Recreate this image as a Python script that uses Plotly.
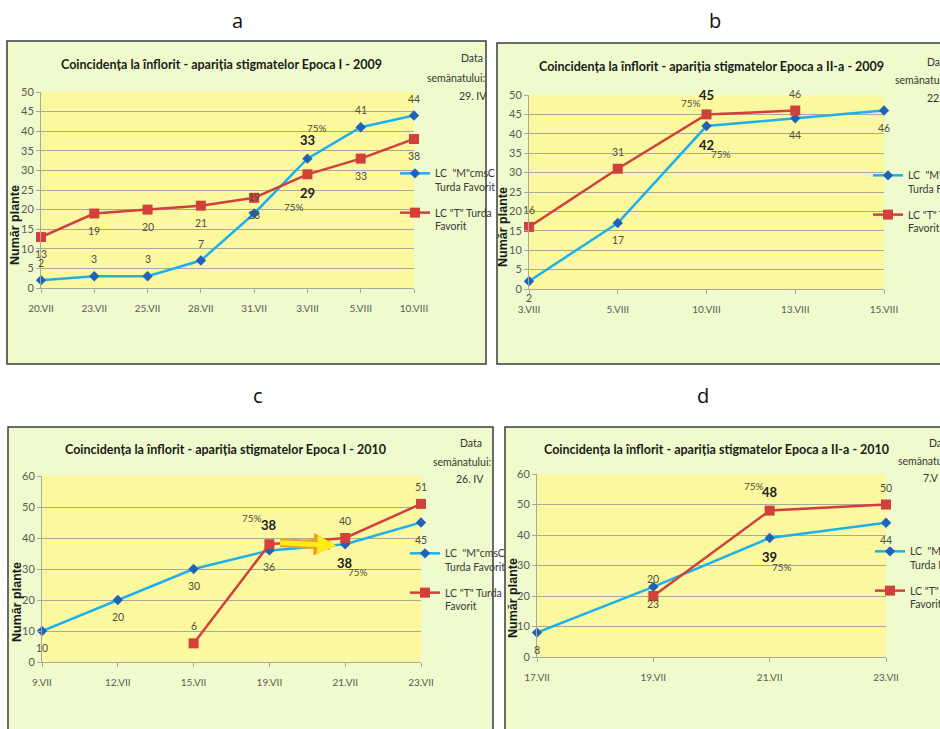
import plotly.graph_objects as go

# ---------------- data ----------------
a_dates = ["20.VII", "23.VII", "25.VII", "28.VII", "31.VII", "3.VIII", "5.VIII", "10.VIII"]
a_M = [2, 3, 3, 7, 19, 33, 41, 44]
a_T = [13, 19, 20, 21, 23, 29, 33, 38]

b_dates = ["3.VIII", "5.VIII", "10.VIII", "13.VIII", "15.VIII"]
b_M = [2, 17, 42, 44, 46]
b_T = [16, 31, 45, 46, None]

c_dates = ["9.VII", "12.VII", "15.VII", "19.VII", "21.VII", "23.VII"]
c_M = [10, 20, 30, 36, 38, 45]
c_T = [None, None, 6, 38, 40, 51]

d_dates = ["17.VII", "19.VII", "21.VII", "23.VII"]
d_M = [8, 23, 39, 44]
d_T = [None, 20, 48, 50]

titles = [
    "Coincidența la înflorit - apariția stigmatelor Epoca I - 2009",
    "Coincidența la înflorit - apariția stigmatelor Epoca a II-a - 2009",
    "Coincidența la înflorit - apariția stigmatelor Epoca I - 2010",
    "Coincidența la înflorit - apariția stigmatelor Epoca a II-a - 2010",
]
sowing = ["29. IV", "22.V", "26. IV", "7.V"]
letters = ["a", "b", "c", "d"]
name_M = 'LC  "M"cmsC<br>Turda Favorit'
name_T = 'LC "T" Turda<br>Favorit'

# ---------------- style / layout ----------------
W, H = 940, 729
NARROW = "Lato, Roboto, Liberation Sans, sans-serif"
BLUE = "#1CB0EC"
BLUE_MK = "#1F63B8"
RED = "#D2403B"
LBL = "#4F4F40"
PANEL_BG = "#EFFBCC"
PLOT_BG = "#FCF8A0"
GRID = "#A8A8A0"

def px(x):
    return x / W

def py(y):
    return 1 - y / H

panels = [
    dict(dates=a_dates, M=a_M, T=a_T, ymax=50, dtick=5,
         plot=(41, 92, 414, 288), frame=(7, 41, 486, 364),
         title_xy=(221, 64), ytitle_xy=(15, 225),
         M_up=True, bold=(5, 5),
         pctM=(10, 31), pctT=(-13, -33),
         legend_xy=(395, 164), data_xy=[(459, 58), (425, 78), (457, 96)],
         letter_xy=(237, 20)),
    dict(dates=b_dates, M=b_M, T=b_T, ymax=50, dtick=5,
         plot=(529, 95, 884, 289), frame=(497, 43, 945, 364),
         title_xy=(711, 67), ytitle_xy=(503, 227),
         M_up=False, bold=(2, 2),
         pctM=(14, -28), pctT=(-16, 11),
         legend_xy=(868, 166), data_xy=[(925, 62), (893, 80), (925, 98)],
         letter_xy=(715, 20)),
    dict(dates=c_dates, M=c_M, T=c_T, ymax=60, dtick=10,
         plot=(42, 476, 421, 662), frame=(8, 427, 493, 735),
         title_xy=(225, 449), ytitle_xy=(17, 602),
         M_up=False, bold=(4, 3),
         pctM=(13, -28), pctT=(-17, 26),
         legend_xy=(405, 544), data_xy=[(458, 443), (431, 462), (454, 479)],
         letter_xy=(258, 395)),
    dict(dates=d_dates, M=d_M, T=d_T, ymax=60, dtick=10,
         plot=(537, 474, 886, 657), frame=(505, 427, 945, 735),
         title_xy=(716, 449), ytitle_xy=(513, 598),
         M_up=False, bold=(2, 2),
         pctM=(12, -29), pctT=(-16, 25),
         legend_xy=(870, 542), data_xy=[(927, 443), (896, 461), (921, 478)],
         letter_xy=(703, 395)),
]

fig = go.Figure()
shapes = []
annotations = []
layout_extra = {}

def paper_text(x, y, text, font, xanchor="center", angle=0):
    annotations.append(dict(x=px(x), y=py(y), xref="paper", yref="paper",
                            xanchor=xanchor, yanchor="middle", showarrow=False,
                            text=text, font=font, textangle=angle))

for k, p in enumerate(panels):
    n = k + 1
    xa = "x" if n == 1 else f"x{n}"
    ya = "y" if n == 1 else f"y{n}"
    xkey = "xaxis" if n == 1 else f"xaxis{n}"
    ykey = "yaxis" if n == 1 else f"yaxis{n}"
    leg = "legend" if n == 1 else f"legend{n}"
    x0, y0, x1, y1 = p["plot"]
    idx = list(range(len(p["dates"])))

    # panel frame + plot background
    fx0, fy0, fx1, fy1 = p["frame"]
    shapes.append(dict(type="rect", xref="paper", yref="paper", layer="below",
                       x0=px(fx0), x1=px(fx1), y0=py(fy1), y1=py(fy0),
                       fillcolor=PANEL_BG, line=dict(color="#3C3C3C", width=1.5)))
    shapes.append(dict(type="rect", xref="paper", yref="paper", layer="below",
                       x0=px(x0), x1=px(x1), y0=py(y1), y1=py(y0),
                       fillcolor=PLOT_BG, line=dict(width=0)))

    fig.add_trace(go.Scatter(
        x=idx, y=p["M"], mode="lines+markers", name=name_M,
        line=dict(color=BLUE, width=2.5),
        marker=dict(symbol="diamond", size=8, color=BLUE_MK, line=dict(width=0)),
        xaxis=xa, yaxis=ya, legend=leg, legendgroup=f"M{n}", cliponaxis=False))
    fig.add_trace(go.Scatter(
        x=idx, y=p["T"], mode="lines+markers", name=name_T,
        line=dict(color=RED, width=2.5),
        marker=dict(symbol="square", size=10, color=RED, line=dict(width=0)),
        xaxis=xa, yaxis=ya, legend=leg, legendgroup=f"T{n}", cliponaxis=False))

    layout_extra[xkey] = dict(
        domain=[px(x0), px(x1)], anchor=ya, range=[0, len(idx) - 1],
        tickmode="array", tickvals=idx, ticktext=p["dates"],
        showgrid=False, zeroline=False, showline=True, linecolor=GRID, linewidth=1,
        ticks="outside", ticklen=4, tickcolor=GRID, ticklabelstandoff=7,
        tickfont=dict(family=NARROW, size=10, color="#595959"))
    layout_extra[ykey] = dict(
        domain=[py(y1), py(y0)], anchor=xa, range=[0, p["ymax"]], dtick=p["dtick"],
        showgrid=True, gridcolor=GRID, gridwidth=1, zeroline=False,
        showline=True, linecolor=GRID, linewidth=1,
        ticks="outside", ticklen=4, tickcolor=GRID,
        tickfont=dict(family=NARROW, size=11, color="#595959"))

    lx, ly = p["legend_xy"]
    layout_extra[leg] = dict(
        x=px(lx), y=py(ly - 4), xanchor="left", yanchor="top",
        bgcolor="rgba(0,0,0,0)", borderwidth=0, valign="top",
        font=dict(family=NARROW, size=10.5, color="#3A3A3A"),
        itemwidth=30, tracegroupgap=9)

    # data labels
    for series, up, bi, pct in ((p["M"], p["M_up"], p["bold"][0], p["pctM"]),
                                (p["T"], not p["M_up"], p["bold"][1], p["pctT"])):
        for i, v in enumerate(series):
            if v is None:
                continue
            bold = (i == bi)
            shift = (19 if bold else 17) * (1 if up else -1)
            annotations.append(dict(
                x=i, y=v, xref=xa, yref=ya, showarrow=False, yshift=shift,
                xanchor="center", yanchor="middle",
                text=f"<b>{v}</b>" if bold else str(v),
                font=dict(family=NARROW, size=13 if bold else 10.5,
                          color="#202020" if bold else LBL)))
            if bold:
                annotations.append(dict(
                    x=i, y=v, xref=xa, yref=ya, showarrow=False,
                    xanchor="center", yanchor="middle",
                    xshift=pct[0], yshift=pct[1], text="75%",
                    font=dict(family=NARROW, size=10, color=LBL)))

    # title, y-axis title, sowing date, panel letter
    tx, ty = p["title_xy"]
    paper_text(tx, ty, f"<b>{titles[k]}</b>",
               dict(family=NARROW, size=12.5, color="#1A1A1A"))
    yx, yy = p["ytitle_xy"]
    paper_text(yx, yy, "<b>Număr plante</b>",
               dict(family="Liberation Sans, Arial, sans-serif", size=12.5, color="#1A1A1A"),
               angle=-90)
    for txt, (dx, dy) in zip(["Data", "semănatului:", sowing[k]], p["data_xy"]):
        paper_text(dx, dy, txt, dict(family=NARROW, size=10.5, color="#333333"),
                   xanchor="left")
    lx2, ly2 = p["letter_xy"]
    paper_text(lx2, ly2, letters[k],
               dict(family="Open Sans, Liberation Sans, sans-serif", size=20, color="#111111"))

# yellow arrow in panel c (between 19.VII and 21.VII)
for col, wdt, hs in (("#F0A020", 9, 0.5), ("#FFEA1A", 5, 0.75)):
    annotations.append(dict(
        x=3.88, y=37.6, ax=3.12, ay=38.5, xref="x3", yref="y3", axref="x3", ayref="y3",
        showarrow=True, arrowhead=2, arrowsize=hs, arrowwidth=wdt, arrowcolor=col,
        text=""))

fig.update_layout(
    width=W, height=H, margin=dict(l=0, r=0, t=0, b=0, pad=0, autoexpand=False),
    paper_bgcolor="white", plot_bgcolor="rgba(0,0,0,0)",
    shapes=shapes, annotations=annotations, showlegend=True,
    **layout_extra)

fig.write_html("out.html")
